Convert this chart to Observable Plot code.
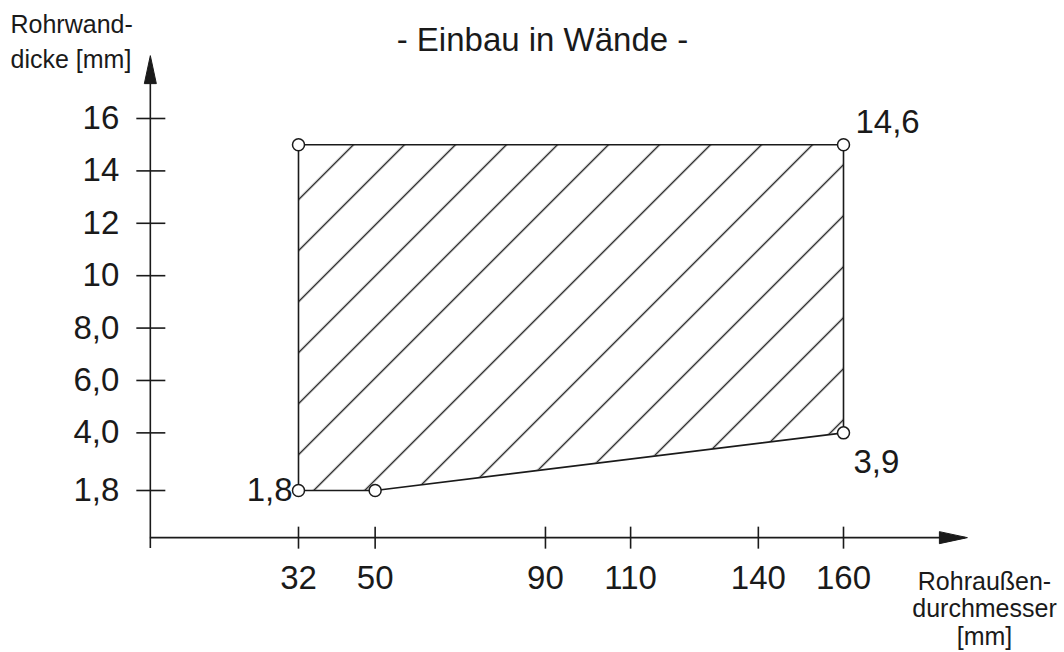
<!DOCTYPE html>
<html><head><meta charset="utf-8">
<script src="https://cdn.jsdelivr.net/npm/d3@7"></script>
<script src="https://cdn.jsdelivr.net/npm/@observablehq/plot@0.6"></script>
<style>
html,body{margin:0;padding:0;background:#fff;}
#chart svg{display:block;font-family:"Liberation Sans",Arial,sans-serif;}
</style>
</head><body><div id="chart"></div>
<script>
// --- data ---
const xTicks = [32, 50, 90, 110, 140, 160];
const xTickLabels = ["32", "50", "90", "110", "140", "160"];
const yTicks = [16, 14, 12, 10, 8, 6, 4, 1.8];
const yTickLabels = ["16", "14", "12", "10", "8,0", "6,0", "4,0", "1,8"];

// outline of the admissible region (outer diameter, wall thickness) as drawn
const regionX = [32, 50, 160, 160, 32, 32];
const regionY = [1.8, 1.8, 4.0, 15.0, 15.0, 1.8];
// lower / upper boundary used for the hatched fill
const lowerX = [32, 50, 160];
const lowerY = [1.8, 1.8, 4.0];
const upperY = 15.0;
// marked corner points
const pointX = [32, 50, 160, 160, 32];
const pointY = [1.8, 1.8, 4.0, 15.0, 15.0];
// value labels
const labelTopRight = {x: 160, y: 15.0, text: "14,6"};
const labelBottomRight = {x: 160, y: 4.0, text: "3,9"};
const labelBottomLeft = {x: 32, y: 1.8, text: "1,8"};

const subtitle = "- Einbau in Wände -";
const yTitle = "Rohrwand-\ndicke [mm]";
const xTitle = "Rohraußen-\ndurchmesser\n[mm]";

// axis geometry (data units)
const xOrigin = -2.8, xEnd = 189.1;
const yOrigin = 0, yEnd = 18.4, yBottom = -0.41;

const W = 1064, H = 652;
const font = "Liberation Sans, Arial, sans-serif";
const ink = "#1a1a1a";

const fillData = lowerX.map((x, i) => ({x, y1: lowerY[i], y2: upperY}));
const outline = regionX.map((x, i) => ({x, y: regionY[i]}));
const points = pointX.map((x, i) => ({x, y: pointY[i]}));

const hTick = {draw(ctx) { ctx.moveTo(-14, 0); ctx.lineTo(15, 0); }};
const vTick = {draw(ctx) { ctx.moveTo(0, -11); ctx.lineTo(0, 11); }};
const upArrow = {draw(ctx) { ctx.moveTo(0, 0); ctx.lineTo(-6, 28); ctx.lineTo(6, 28); ctx.closePath(); }};
const rightArrow = {draw(ctx) { ctx.moveTo(0, 0); ctx.lineTo(-28, -6); ctx.lineTo(-28, 6); ctx.closePath(); }};

const chart = Plot.plot({
  width: W, height: H,
  marginTop: 0, marginRight: 0, marginBottom: 0, marginLeft: 0,
  style: {fontFamily: font, background: "#fff", color: ink},
  x: {type: "linear", domain: [32, 160], range: [298, 843], axis: null},
  y: {type: "linear", domain: [1.8, 16], range: [490, 118], axis: null},
  marks: [
    // hatched region
    Plot.areaY(fillData, {x: "x", y1: "y1", y2: "y2", fill: "url(#hatch)", curve: "linear"}),
    Plot.line(outline, {x: "x", y: "y", stroke: ink, strokeWidth: 1.6}),
    // axes
    Plot.ruleY([yOrigin], {x1: xOrigin, x2: xEnd - 0.5, stroke: ink, strokeWidth: 1.6}),
    Plot.ruleX([xOrigin], {y1: yBottom, y2: yEnd - 0.3, stroke: ink, strokeWidth: 1.6}),
    Plot.dot([0], {x: xOrigin, y: yEnd, symbol: upArrow, fill: ink, stroke: ink, strokeWidth: 1}),
    Plot.dot([0], {x: xEnd, y: yOrigin, symbol: rightArrow, fill: ink, stroke: ink, strokeWidth: 1}),
    // ticks
    Plot.dot(yTicks, {x: xOrigin, y: d => d, symbol: hTick, fill: "none", stroke: ink, strokeWidth: 1.6}),
    Plot.dot(xTicks, {x: d => d, y: yOrigin, symbol: vTick, fill: "none", stroke: ink, strokeWidth: 1.6}),
    // tick labels
    Plot.text(yTicks, {x: xOrigin, y: d => d, text: (d, i) => yTickLabels[i], textAnchor: "end", dx: -31, fontSize: 33, fill: ink}),
    Plot.text(xTicks, {x: d => d, y: yOrigin, text: (d, i) => xTickLabels[i], textAnchor: "middle", dy: 41, fontSize: 33, fill: ink}),
    // corner points
    Plot.dot(points, {x: "x", y: "y", r: 6, fill: "#fff", stroke: ink, strokeWidth: 1.5}),
    // value labels
    Plot.text([labelTopRight], {x: "x", y: "y", text: "text", textAnchor: "start", dx: 12, dy: -22, fontSize: 33, fill: ink}),
    Plot.text([labelBottomRight], {x: "x", y: "y", text: "text", textAnchor: "start", dx: 10, dy: 30, fontSize: 33, fill: ink}),
    Plot.text([labelBottomLeft], {x: "x", y: "y", text: "text", textAnchor: "end", dx: -6, dy: 0, fontSize: 33, fill: ink}),
    // titles
    Plot.text([subtitle], {frameAnchor: "top-left", dx: 542, dy: 40, text: d => d, textAnchor: "middle", lineAnchor: "middle", fontSize: 33, fill: ink}),
    Plot.text([yTitle], {frameAnchor: "top-left", dx: 10, dy: 39, text: d => d, textAnchor: "start", lineAnchor: "middle", lineHeight: 1.4, fontSize: 25, fill: ink}),
    Plot.text([xTitle], {frameAnchor: "top-left", dx: 984, dy: 608, text: d => d, textAnchor: "middle", lineAnchor: "middle", lineHeight: 1.1, fontSize: 25, fill: ink})
  ]
});

// hatch pattern definition, aligned with the drawn scale
const sx = chart.scale("x"), sy = chart.scale("y");
const gap = 51 / Math.SQRT2;
const x0 = sx.apply(32) + 56, y0 = sy.apply(upperY);
const phase = (((x0 + y0) / Math.SQRT2) % gap) - gap / 2;
const defs = d3.select(chart).insert("defs", ":first-child");
const pat = defs.append("pattern")
  .attr("id", "hatch").attr("patternUnits", "userSpaceOnUse")
  .attr("width", gap).attr("height", gap)
  .attr("patternTransform", `rotate(45) translate(${phase},0)`);
pat.append("line").attr("x1", gap / 2).attr("x2", gap / 2).attr("y1", -2).attr("y2", gap + 2)
  .attr("stroke", ink).attr("stroke-width", 1.4);

document.getElementById("chart").append(chart);
</script>
</body></html>
